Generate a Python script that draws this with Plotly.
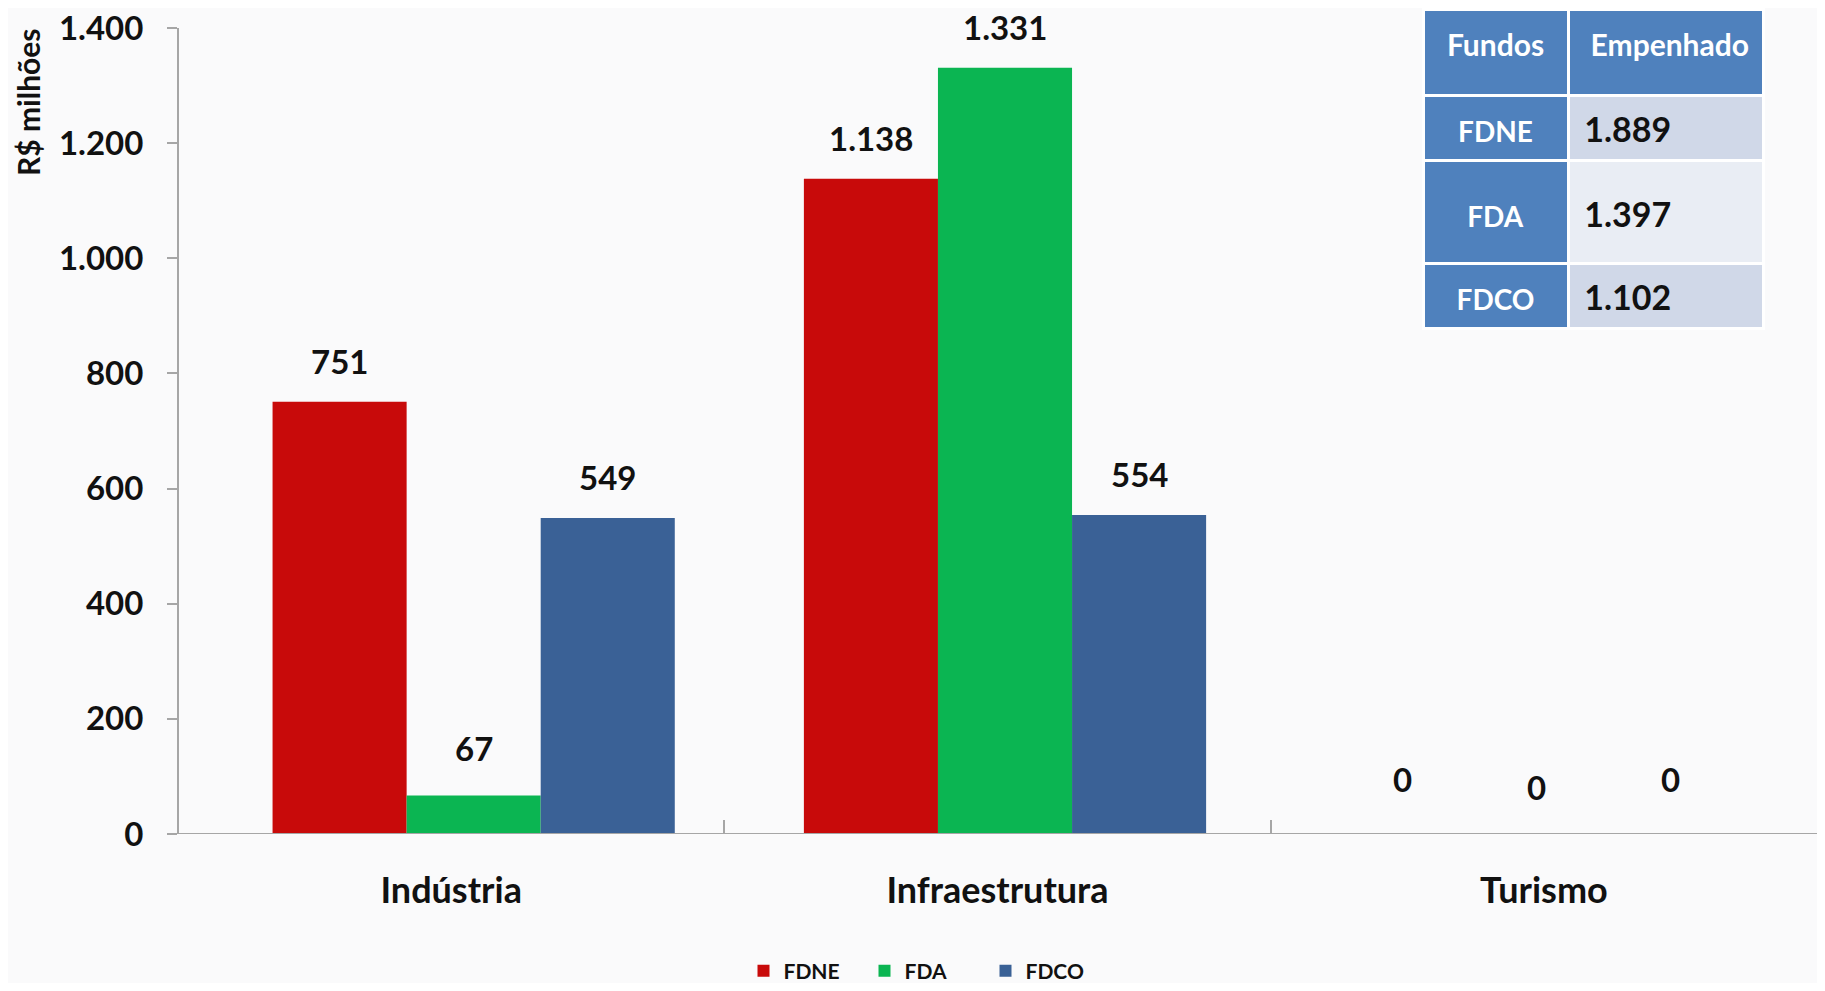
import plotly.graph_objects as go

# ---- data ----
categories = ["Indústria", "Infraestrutura", "Turismo"]
series_names = ["FDNE", "FDA", "FDCO"]
fdne = [751, 1138, 0]
fda = [67, 1331, 0]
fdco = [549, 554, 0]
y_ticks = [0, 200, 400, 600, 800, 1000, 1200, 1400]

table_header = ["Fundos", "Empenhado"]
table_fundos = ["FDNE", "FDA", "FDCO"]
table_empenhado = [1889, 1397, 1102]

colors = ["#C80A0A", "#0BB552", "#3A6196"]
FONT = "Lato"
W, H = 1809, 975


def br(v):
    return f"{v:,}".replace(",", ".")


def cell(txt, size, lead, trail=0, pre=""):
    # small base font so each <br> is a fine vertical step
    return ("<br>" * lead + f"<span style='font-size:{size}px'>{pre}{txt}</span>"
            + "<br>&nbsp;" * trail)


fig = go.Figure()
for name, vals, col in zip(series_names, [fdne, fda, fdco], colors):
    fig.add_trace(go.Bar(
        x=categories, y=vals, name=name,
        marker=dict(color=col, line=dict(width=0)),
    ))

# front category axis (labels + dividers) needs a trace to be drawn
fig.add_trace(go.Scatter(
    x=categories, y=[None] * len(categories), xaxis="x2", yaxis="y",
    mode="markers", marker=dict(opacity=0), showlegend=False, hoverinfo="skip",
))

# data labels
annotations = []
for i, vals in enumerate([fdne, fda, fdco]):
    for j, v in enumerate(vals):
        shift = 41 + (14 if v == 0 else 0) + (6 if 0 < v < 100 else 0)
        if v == 0 and i == 1:
            shift -= 8
        annotations.append(dict(
            x=categories[j], y=v, xref="x", yref="y",
            text=br(v), showarrow=False, yshift=shift,
            xshift=(i - 1) * 134,
            font=dict(family=FONT, size=33, color="#111111", weight="bold"),
        ))

annotations.append(dict(
    x=20 / W, y=1 - 18 / H, xref="paper", yref="paper", text="R$ milhões",
    textangle=-90, showarrow=False, xanchor="center", yanchor="top",
    font=dict(family=FONT, size=30, color="#111111", weight="bold"),
))

# table rows (first row acts as header)
lead_rows = [6, 6, 9, 6]
trail_rows = [6, 0, 8, 0]
col0_txt = [table_header[0]] + table_fundos
col1_txt = [table_header[1]] + [br(v) for v in table_empenhado]
col0 = [cell(t, 30 if k == 0 else 28, lead_rows[k], trail_rows[k]) for k, t in enumerate(col0_txt)]
col1 = [cell(t, 30 if k == 0 else 34, lead_rows[k], trail_rows[k],
             pre="&nbsp;&nbsp;" if k == 0 else "&nbsp;")
        for k, t in enumerate(col1_txt)]

HDR = "#4F81BD"
fig.add_trace(go.Table(
    domain=dict(x=[1415 / W, 1755 / W], y=[0.62, 1.0]),
    columnwidth=[145, 195],
    header=dict(values=["", ""], height=1, line=dict(width=0), fill_color="rgba(0,0,0,0)"),
    cells=dict(
        values=[col0, col1],
        fill_color=[[HDR] * 4, [HDR, "#D0D8E8", "#E9EDF4", "#D0D8E8"]],
        line=dict(color="white", width=3),
        align=["center", "left"],
        height=65,
        font=dict(family=FONT, size=5,
                  color=[["white"] * 4, ["white", "#111111", "#111111", "#111111"]],
                  weight="bold"),
    ),
))

# baseline of the floor across the whole plot width
fig.add_shape(type="line", xref="paper", yref="y", x0=170 / W, x1=1.0, y0=0, y1=0,
              line=dict(color="#A6A6A6", width=2))

fig.update_layout(
    width=W, height=H,
    margin=dict(l=0, r=0, t=0, b=0, autoexpand=False),
    paper_bgcolor="#FAFAFB",
    plot_bgcolor="rgba(0,0,0,0)",
    separators=",.",
    barmode="group",
    bargap=0.243,
    bargroupgap=0,
    showlegend=True,
    legend=dict(
        orientation="h", x=917 / W, y=1 - 963 / H, xanchor="center", yanchor="middle",
        font=dict(family=FONT, size=21, color="#111111", weight="bold"),
        entrywidth=76, bgcolor="rgba(0,0,0,0)",
    ),
    # axis used by the bars (depth plane of the 3D chart)
    xaxis=dict(
        domain=[200 / W, 1794 / W],
        range=[-0.5, 2.5],
        showline=False, ticks="", showticklabels=False,
        showgrid=False, zeroline=False,
    ),
    # front axis carrying category labels and dividers (own domain)
    xaxis2=dict(
        domain=[170 / W, 1.0],
        anchor="y", side="bottom",
        type="category", categoryorder="array", categoryarray=categories,
        range=[-0.5, 2.5],
        showline=False,
        ticks="inside", tickson="boundaries", ticklen=14, tickcolor="#A6A6A6", tickwidth=2,
        tickfont=dict(family=FONT, size=36, color="#111111", weight="bold"),
        ticklabelstandoff=32,
        showgrid=False, zeroline=False,
    ),
    yaxis=dict(
        domain=[1 - 826 / H, 1 - 20 / H],
        anchor="free", position=170 / W,
        range=[0, 1400],
        tickvals=y_ticks, tickformat=",d",
        showline=True, linecolor="#A6A6A6", linewidth=2,
        ticks="outside", ticklen=10, tickcolor="#A6A6A6", tickwidth=2,
        tickfont=dict(family=FONT, size=33, color="#111111", weight="bold"),
        ticklabelstandoff=17, ticklabeloverflow="allow",
        showgrid=False, zeroline=False,
    ),
    annotations=annotations,
    font=dict(family=FONT),
)

fig.write_html("out.html")
